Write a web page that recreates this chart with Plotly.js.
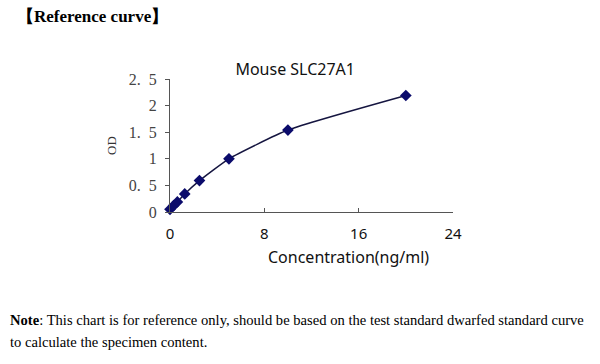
<!DOCTYPE html>
<html>
<head>
<meta charset="utf-8">
<script src="https://cdn.plot.ly/plotly-3.0.1.min.js"></script>
<style>
html,body{margin:0;padding:0;background:#fff;width:600px;height:364px;overflow:hidden;}
#wrap{position:relative;width:600px;height:364px;}
#chart{position:absolute;left:0;top:0;width:600px;height:364px;}
#head{position:absolute;left:17px;top:5px;font-family:"Liberation Serif","DejaVu Serif",serif;font-weight:bold;font-size:17px;color:#000;}
#note{position:absolute;left:10px;top:309px;width:595px;font-family:"Liberation Serif","DejaVu Serif",serif;font-size:14.6px;line-height:22px;color:#000;white-space:nowrap;}
</style>
</head>
<body>
<div id="wrap">
<div id="chart"></div>
<div id="head">【Reference curve】</div>
<div id="note"><b>Note</b>: This chart is for reference only, should be based on the test standard dwarfed standard curve<br>to calculate the specimen content.</div>
</div>
<script>
const concentration = [0, 0.312, 0.625, 1.25, 2.5, 5, 10, 20];
const od = [0.05, 0.12, 0.19, 0.34, 0.59, 1.0, 1.54, 2.19];
const xTicks = [0, 8, 16, 24];
const yTicks = [0, 0.5, 1, 1.5, 2, 2.5];
const yTickText = ["0", "0.\u00A0\u00A05", "1", "1.\u00A0\u00A05", "2", "2.\u00A0\u00A05"];
const chartTitle = "Mouse SLC27A1";
const xTitle = "Concentration(ng/ml)";
const yTitle = "OD";

const trace = {
  x: concentration, y: od, type: 'scatter', mode: 'lines+markers',
  line: {color: '#151540', width: 1.5, shape: 'spline', smoothing: 0.5},
  marker: {symbol: 'diamond', size: 9, color: '#0b0b6b'},
  cliponaxis: false, hoverinfo: 'none'
};
const layout = {
  width: 600, height: 364,
  margin: {l: 170, r: 147, t: 79, b: 152},
  paper_bgcolor: '#fff', plot_bgcolor: '#fff',
  showlegend: false,
  title: {text: chartTitle, x: 0.492, xref: 'container', xanchor: 'center', y: 0.808, yanchor: 'middle',
    font: {family: 'Noto Sans, Open Sans, sans-serif', size: 16, color: '#111'}},
  xaxis: {range: [0, 24], tickvals: xTicks, ticktext: xTicks.map(String), ticks: 'inside', ticklen: 4,
    tickcolor: '#555', showline: true, linecolor: '#555', linewidth: 1, showgrid: false, zeroline: false,
    ticklabelstandoff: 8,
    tickfont: {family: 'Noto Sans, Open Sans, sans-serif', size: 15, color: '#111'}},
  yaxis: {range: [0, 2.5], tickvals: yTicks, ticktext: yTickText, ticks: 'outside', ticklen: 4,
    tickcolor: '#555', showline: true, linecolor: '#555', linewidth: 1, showgrid: false, zeroline: false,
    ticklabelstandoff: 5,
    tickfont: {family: 'Liberation Serif, DejaVu Serif, serif', size: 16, color: '#444'},
    title: {text: yTitle, standoff: 9, font: {family: 'Liberation Serif, serif', size: 13, color: '#333'}}},
  annotations: [{text: xTitle, xref: 'paper', yref: 'paper', x: 0.63, y: -0.34, xanchor: 'center', yanchor: 'middle',
    showarrow: false, font: {family: 'Noto Sans, Open Sans, sans-serif', size: 16, color: '#111'}}]
};
Plotly.newPlot('chart', [trace], layout, {staticPlot: true, displayModeBar: false});
</script>
</body>
</html>
